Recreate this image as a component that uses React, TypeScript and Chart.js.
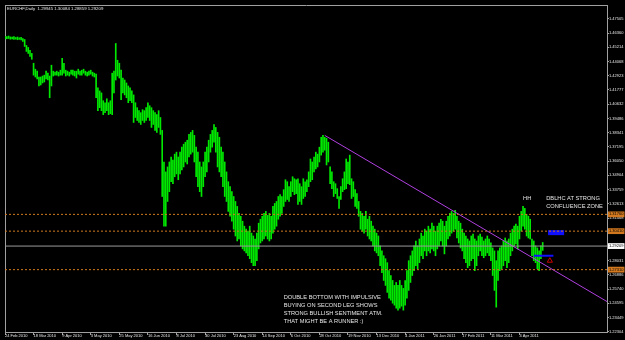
import React, { useEffect, useRef } from 'react';
import { Chart, registerables } from 'chart.js';

Chart.register(...registerables);

const symbolTitle = 'EURCHF,Daily  1.29945 1.30084 1.28859 1.29209';

const dateLabels = ['24 Feb 2010', '18 Mar 2010', '9 Apr 2010', '3 May 2010', '25 May 2010', '16 Jun 2010', '8 Jul 2010', '30 Jul 2010', '23 Aug 2010', '14 Sep 2010', '6 Oct 2010', '28 Oct 2010', '19 Nov 2010', '13 Dec 2010', '4 Jan 2011', '26 Jan 2011', '17 Feb 2011', '11 Mar 2011', '4 Apr 2011'];
const barsPerDateLabel = 16;
const slotCount = 338;

const highs = [
  1.4610, 1.4607, 1.4612, 1.4605, 1.4603, 1.4608, 1.4600, 1.4604, 1.4598, 1.4601,
  1.4592, 1.4584, 1.4536, 1.4520, 1.4496, 1.4472, 1.4393, 1.4345, 1.4329, 1.4282,
  1.4282, 1.4290, 1.4297, 1.4329, 1.4313, 1.4290, 1.4377, 1.4329, 1.4321, 1.4329,
  1.4321, 1.4337, 1.4433, 1.4393, 1.4337, 1.4329, 1.4321, 1.4337, 1.4337, 1.4329,
  1.4329, 1.4345, 1.4329, 1.4337, 1.4345, 1.4329, 1.4321, 1.4329, 1.4337, 1.4321,
  1.4313, 1.4305, 1.4194, 1.4170, 1.4154, 1.4091, 1.4075, 1.4107, 1.4075, 1.4091,
  1.4313, 1.4329, 1.4552, 1.4417, 1.4393, 1.4337, 1.4274, 1.4258, 1.4234, 1.4210,
  1.4194, 1.4170, 1.4138, 1.4075, 1.4035, 1.4011, 1.3995, 1.4019, 1.4011, 1.4035,
  1.4075, 1.4051, 1.4035, 1.4011, 1.3995, 1.3979, 1.4011, 1.3956, 1.3852, 1.3598,
  1.3518, 1.3558, 1.3598, 1.3638, 1.3614, 1.3661, 1.3677, 1.3638, 1.3677, 1.3717,
  1.3741, 1.3757, 1.3773, 1.3820, 1.3836, 1.3852, 1.3812, 1.3717, 1.3677, 1.3598,
  1.3558, 1.3598, 1.3677, 1.3717, 1.3773, 1.3820, 1.3852, 1.3900, 1.3876, 1.3836,
  1.3797, 1.3717, 1.3677, 1.3598, 1.3518, 1.3439, 1.3399, 1.3359, 1.3320, 1.3280,
  1.3240, 1.3184, 1.3161, 1.3121, 1.3081, 1.3057, 1.3041, 1.3081, 1.3025, 1.3002,
  1.2978, 1.3025, 1.3105, 1.3137, 1.3161, 1.3184, 1.3200, 1.3168, 1.3184, 1.3161,
  1.3240, 1.3264, 1.3280, 1.3320, 1.3335, 1.3320, 1.3375, 1.3455, 1.3439, 1.3399,
  1.3439, 1.3479, 1.3463, 1.3455, 1.3463, 1.3423, 1.3399, 1.3463, 1.3439, 1.3455,
  1.3518, 1.3622, 1.3598, 1.3638, 1.3677, 1.3661, 1.3717, 1.3797, 1.3812, 1.3797,
  1.3789, 1.3757, 1.3558, 1.3518, 1.3439, 1.3423, 1.3383, 1.3320, 1.3399, 1.3463,
  1.3518, 1.3622, 1.3598, 1.3653, 1.3463, 1.3439, 1.3375, 1.3343, 1.3280, 1.3200,
  1.3184, 1.3161, 1.3200, 1.3137, 1.3161, 1.3121, 1.3081, 1.3057, 1.3025, 1.3002,
  1.2922, 1.2882, 1.2843, 1.2819, 1.2787, 1.2723, 1.2684, 1.2644, 1.2604, 1.2628,
  1.2604, 1.2644, 1.2604, 1.2580, 1.2644, 1.2723, 1.2803, 1.2843, 1.2882, 1.2922,
  1.2962, 1.2922, 1.2978, 1.3025, 1.3002, 1.3057, 1.3041, 1.3081, 1.3057, 1.3105,
  1.3081, 1.3041, 1.3081, 1.3105, 1.3137, 1.3121, 1.3081, 1.3121, 1.3161, 1.3184,
  1.3200, 1.3184, 1.3208, 1.3161, 1.3121, 1.3105, 1.3057, 1.3025, 1.3002, 1.2978,
  1.2962, 1.3002, 1.3017, 1.2978, 1.2962, 1.3002, 1.3017, 1.2994, 1.2962, 1.2978,
  1.3002, 1.2978, 1.2946, 1.2906, 1.2882, 1.2803, 1.2882, 1.2906, 1.2922, 1.2962,
  1.2986, 1.2962, 1.2978, 1.3025, 1.3057, 1.3081, 1.3097, 1.3081, 1.3161, 1.3200,
  1.3240, 1.3224, 1.3176, 1.3161, 1.3137, 1.2978, 1.2962, 1.2922, 1.2906, 1.2882,
  1.2922, 1.2950
];

const lows = [
  1.4588, 1.4590, 1.4592, 1.4586, 1.4589, 1.4584, 1.4587, 1.4582, 1.4585, 1.4580,
  1.4568, 1.4528, 1.4488, 1.4472, 1.4448, 1.4425, 1.4297, 1.4282, 1.4266, 1.4210,
  1.4218, 1.4234, 1.4242, 1.4266, 1.4258, 1.4115, 1.4210, 1.4290, 1.4297, 1.4297,
  1.4290, 1.4297, 1.4297, 1.4313, 1.4290, 1.4297, 1.4290, 1.4305, 1.4297, 1.4290,
  1.4274, 1.4305, 1.4297, 1.4297, 1.4313, 1.4297, 1.4290, 1.4297, 1.4305, 1.4290,
  1.4282, 1.4115, 1.4011, 1.4035, 1.4011, 1.3979, 1.3995, 1.4011, 1.3979, 1.3987,
  1.3979, 1.4154, 1.4258, 1.4290, 1.4274, 1.4099, 1.4154, 1.4138, 1.4115, 1.4075,
  1.4091, 1.4075, 1.3916, 1.3956, 1.3932, 1.3916, 1.3900, 1.3932, 1.3916, 1.3932,
  1.3956, 1.3932, 1.3876, 1.3900, 1.3852, 1.3836, 1.3876, 1.3820, 1.3320, 1.3081,
  1.3081, 1.3280, 1.3359, 1.3439, 1.3423, 1.3479, 1.3502, 1.3455, 1.3502, 1.3534,
  1.3558, 1.3598, 1.3582, 1.3638, 1.3661, 1.3677, 1.3598, 1.3479, 1.3399, 1.3359,
  1.3320, 1.3399, 1.3479, 1.3518, 1.3598, 1.3677, 1.3717, 1.3757, 1.3677, 1.3558,
  1.3518, 1.3479, 1.3399, 1.3320, 1.3280, 1.3200, 1.3161, 1.3121, 1.3057, 1.3002,
  1.2962, 1.2978, 1.2922, 1.2898, 1.2882, 1.2866, 1.2843, 1.2819, 1.2787, 1.2763,
  1.2763, 1.2803, 1.2898, 1.2946, 1.2962, 1.2978, 1.3002, 1.2978, 1.2962, 1.2978,
  1.3025, 1.3057, 1.3081, 1.3137, 1.3161, 1.3184, 1.3240, 1.3280, 1.3296, 1.3280,
  1.3320, 1.3359, 1.3335, 1.3343, 1.3256, 1.3280, 1.3256, 1.3304, 1.3320, 1.3359,
  1.3399, 1.3439, 1.3455, 1.3518, 1.3542, 1.3558, 1.3598, 1.3653, 1.3677, 1.3693,
  1.3574, 1.3598, 1.3423, 1.3383, 1.3320, 1.3343, 1.3304, 1.3224, 1.3296, 1.3359,
  1.3375, 1.3383, 1.3423, 1.3415, 1.3304, 1.3320, 1.3240, 1.3224, 1.3161, 1.3057,
  1.3041, 1.3025, 1.3057, 1.3002, 1.2978, 1.2962, 1.2922, 1.2882, 1.2866, 1.2843,
  1.2763, 1.2707, 1.2644, 1.2604, 1.2548, 1.2501, 1.2485, 1.2461, 1.2445, 1.2421,
  1.2405, 1.2421, 1.2437, 1.2405, 1.2445, 1.2501, 1.2564, 1.2628, 1.2684, 1.2723,
  1.2763, 1.2739, 1.2787, 1.2843, 1.2819, 1.2882, 1.2843, 1.2882, 1.2866, 1.2898,
  1.2882, 1.2843, 1.2898, 1.2922, 1.2962, 1.2922, 1.2858, 1.2922, 1.2978, 1.3002,
  1.3025, 1.3041, 1.3057, 1.2986, 1.2946, 1.2906, 1.2882, 1.2819, 1.2787, 1.2747,
  1.2763, 1.2803, 1.2819, 1.2723, 1.2763, 1.2843, 1.2882, 1.2843, 1.2827, 1.2843,
  1.2866, 1.2843, 1.2803, 1.2684, 1.2564, 1.2429, 1.2644, 1.2723, 1.2739, 1.2763,
  1.2803, 1.2747, 1.2787, 1.2843, 1.2882, 1.2922, 1.2938, 1.2898, 1.2978, 1.3041,
  1.3081, 1.3057, 1.3002, 1.2986, 1.2978, 1.2843, 1.2803, 1.2787, 1.2739, 1.2723,
  1.2819, 1.2886
];

const priceTicks = [1.47505, 1.46360, 1.45214, 1.44068, 1.42923, 1.41777, 1.40632, 1.39486, 1.38341, 1.37195, 1.36050, 1.34904, 1.33759, 1.32613, 1.31468, 1.30322, 1.29177, 1.28031, 1.26886, 1.25740, 1.24595, 1.23449, 1.22304];
const priceTop = 1.48618;
const priceBottom = 1.22290;

const levelPrices = [1.31760, 1.30410, 1.27310];
const bidPrice = 1.29209;

const trendBars = [179, 337];
const trendPrices = [1.3812, 1.2474];

const zoneBars = [304, 313];
const zonePrice = 1.3029;
const supportBars = [296, 307];
const supportPrice = 1.2843;
const arrowBar = 305;
const arrowPrice = 1.2803;

const notes = [
  { bar: 290, price: 1.3304, lines: ['HH'] },
  { bar: 303, price: 1.3304, lines: ['DBLHC AT STRONG', 'CONFLUENCE ZONE'] },
  { bar: 156, price: 1.2505, lines: ['DOUBLE BOTTOM WITH IMPULSIVE', 'BUYING ON SECOND LEG SHOWS', 'STRONG BULLISH SENTIMENT ATM.', 'THAT MIGHT BE A RUNNER :)'] },
];

const FONT = '"Liberation Sans", Arial, sans-serif';
const FRAME = '#a0a0a0';
const TEXT = '#e6e6e6';
const ORANGE = '#d2781e';

const notesPlugin = {
  id: 'notes',
  afterDatasetsDraw(chart: any) {
    const { ctx, chartArea, scales } = chart;
    ctx.save();
    ctx.fillStyle = TEXT;
    ctx.textBaseline = 'middle';
    ctx.textAlign = 'left';
    ctx.font = `4.3px ${FONT}`;
    ctx.fillText(symbolTitle, chartArea.left + 2, chartArea.top + 4);
    ctx.font = `5.7px ${FONT}`;
    for (const n of notes) {
      const x = scales.x.getPixelForValue(n.bar);
      const y = scales.y.getPixelForValue(n.price);
      n.lines.forEach((t, k) => ctx.fillText(t, x, y + k * 8));
    }
    ctx.restore();
  },
};

const specialTicks = [...levelPrices, bidPrice];

export default function App() {
  const ref = useRef<HTMLCanvasElement>(null);

  useEffect(() => {
    document.body.style.margin = '0';
    document.body.style.background = '#000';
    const seg = (bars: number[], price: number) => bars.map((b) => ({ x: b, y: price }));
    const lineDs = (data: any[], color: string, width: number, dash: number[] = []) => ({
      type: 'line' as const,
      data,
      borderColor: color,
      borderWidth: width,
      borderDash: dash,
      borderCapStyle: 'butt' as const,
      pointRadius: 0,
      fill: false,
      order: 0,
    });
    const first = 0;
    const last = slotCount - 1;
    const chart = new Chart(ref.current as HTMLCanvasElement, {
      type: 'bar',
      data: {
        datasets: [
          ...levelPrices.map((p) => lineDs(seg([first, last], p), ORANGE, 1, [2, 2])),
          lineDs(seg([first, last], bidPrice), '#9a9a9a', 1),
          lineDs(trendBars.map((b, k) => ({ x: b, y: trendPrices[k] })), '#b040e0', 1),
          lineDs(seg(zoneBars, zonePrice), '#1010ff', 5),
          lineDs(seg(supportBars, supportPrice), '#1010ff', 2),
          {
            type: 'line' as const,
            data: [{ x: arrowBar, y: arrowPrice }],
            showLine: false,
            pointStyle: 'triangle',
            pointRadius: 3,
            pointBorderColor: '#d00000',
            pointBackgroundColor: 'rgba(0,0,0,0)',
            pointBorderWidth: 1,
            order: 0,
          },
          {
            type: 'bar' as const,
            data: highs.map((h, i) => ({ x: i, y: [lows[i], h] })),
            backgroundColor: '#00e800',
            borderWidth: 0,
            barThickness: 1,
            grouped: false,
            order: 10,
          } as any,
        ],
      },
      options: {
        animation: false,
        responsive: false,
        maintainAspectRatio: false,
        devicePixelRatio: 1,
        events: [],
        layout: { padding: { left: 2, top: 1, right: 0, bottom: 0 } },
        plugins: { legend: { display: false }, tooltip: { enabled: false }, title: { display: false } },
        scales: {
          x: {
            type: 'linear',
            min: first,
            max: last,
            offset: false,
            afterFit: (s: any) => { s.height = 8; },
            afterBuildTicks: (s: any) => { s.ticks = dateLabels.map((_, k) => ({ value: k * barsPerDateLabel })); },
            grid: { drawOnChartArea: false, drawTicks: true, tickLength: 3, color: FRAME, offset: false },
            border: { color: FRAME },
            ticks: {
              autoSkip: false,
              maxRotation: 0,
              minRotation: 0,
              align: 'start',
              padding: -2,
              color: TEXT,
              font: { family: FONT, size: 4 },
              callback: (v: any) => dateLabels[Math.round(Number(v) / barsPerDateLabel)],
            },
          },
          xTop: {
            type: 'linear',
            position: 'top',
            min: 0,
            max: 1,
            afterFit: (s: any) => { s.height = 0; },
            grid: { drawOnChartArea: false, drawTicks: false },
            border: { color: FRAME },
            ticks: { display: false },
          },
          y: {
            type: 'linear',
            position: 'right',
            min: priceBottom,
            max: priceTop,
            beginAtZero: false,
            afterFit: (s: any) => { s.width = 18; },
            afterBuildTicks: (s: any) => { s.ticks = [...priceTicks, ...specialTicks].map((v) => ({ value: v })); },
            grid: { drawOnChartArea: false, drawTicks: true, tickLength: 2, color: FRAME },
            border: { color: FRAME },
            ticks: {
              autoSkip: false,
              padding: 0,
              font: { family: FONT, size: 4 },
              color: (c: any) => (c.index >= priceTicks.length ? '#000' : TEXT),
              showLabelBackdrop: (c: any) => c.index >= priceTicks.length,
              backdropColor: (c: any) => (c.index === priceTicks.length + levelPrices.length ? '#ffffff' : ORANGE),
              backdropPadding: { left: 1, right: 1, top: 0.5, bottom: 0.5 },
              callback: (v: any) => Number(v).toFixed(5),
            },
          },
          yLeft: {
            type: 'linear',
            position: 'left',
            min: 0,
            max: 1,
            afterFit: (s: any) => { s.width = 0; },
            grid: { drawOnChartArea: false, drawTicks: false },
            border: { color: FRAME },
            ticks: { display: false },
          },
        },
      } as any,
      plugins: [notesPlugin],
    });
    return () => chart.destroy();
  }, []);

  return (
    <canvas
      ref={ref}
      width={625}
      height={340}
      style={{ display: 'block', width: 625, height: 340, background: '#000' }}
    />
  );
}
